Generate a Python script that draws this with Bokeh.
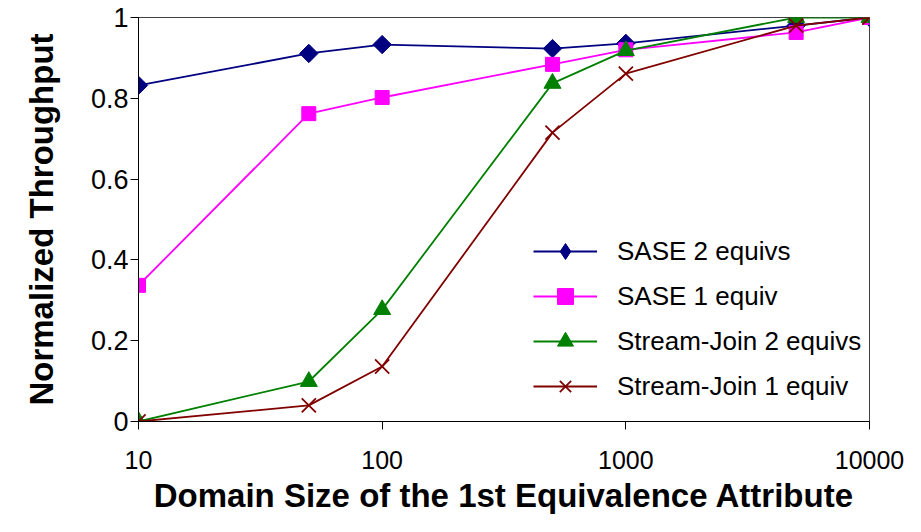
import math
from bokeh.plotting import figure
from bokeh.models import FixedTicker, Legend, LegendItem, Range1d
from bokeh.embed import file_html
from bokeh.resources import INLINE

x_vals = [10, 50, 100, 500, 1000, 5000, 10000]
sase2 = [0.832, 0.911, 0.933, 0.923, 0.936, 0.980, 1.0]
sase1 = [0.337, 0.762, 0.802, 0.884, 0.920, 0.963, 1.0]
sj2 = [0.0, 0.099, 0.277, 0.837, 0.918, 1.0, 1.0]
sj1 = [0.0, 0.040, 0.136, 0.715, 0.861, 0.980, 1.0]
x_ticks = [10, 100, 1000, 10000]
y_ticks = [0, 0.2, 0.4, 0.6, 0.8, 1.0]
y_labels = ["0", "0.2", "0.4", "0.6", "0.8", "1"]

p = figure(width=905, height=516, x_axis_type="log", output_backend="svg",
           toolbar_location=None, x_range=Range1d(10, 10000), y_range=Range1d(0, 1),
           min_border_left=138, min_border_top=17, min_border_right=36, min_border_bottom=95)
p.xgrid.visible = False
p.ygrid.visible = False
p.outline_line_color = "#404040"
p.outline_line_width = 1
p.background_fill_color = "white"
p.border_fill_color = "white"

font = "Liberation Sans"
for ax in (p.xaxis[0], p.yaxis[0]):
    ax.axis_line_color = "black"
    ax.major_tick_line_color = "black"
    ax.minor_tick_line_color = None
    ax.major_tick_in = 0
    ax.major_tick_out = 8
    ax.major_label_text_font = font
    ax.major_label_text_color = "black"
    ax.axis_label_text_font = font
    ax.axis_label_text_font_style = "bold"
    ax.axis_label_text_color = "black"

p.xaxis.ticker = FixedTicker(ticks=x_ticks)
p.xaxis.major_label_overrides = {t: str(t) for t in x_ticks}
p.xaxis.major_label_text_font_size = "25px"
p.xaxis.major_label_standoff = 21
p.xaxis.axis_label = "Domain Size of the 1st Equivalence Attribute"
p.xaxis.axis_label_text_font_size = "33px"
p.xaxis.axis_label_standoff = 5

p.yaxis.ticker = FixedTicker(ticks=y_ticks)
p.yaxis.major_label_overrides = {t: l for t, l in zip(y_ticks, y_labels)}
p.yaxis.major_label_text_font_size = "27px"
p.yaxis.major_label_standoff = 2
p.yaxis.axis_label = "Normalized Throughput"
p.yaxis.axis_label_text_font_size = "33px"
p.yaxis.axis_label_standoff = 28

series = [
    ("SASE 2 equivs", sase2, "#000080", "square", 13, math.pi / 4),
    ("SASE 1 equiv", sase1, "#FF00FF", "square", 14, 0),
    ("Stream-Join 2 equivs", sj2, "#008000", "triangle", 17, 0),
    ("Stream-Join 1 equiv", sj1, "#800000", "x", 20, 0),
]
items = []
for name, ys, color, marker, size, ang in series:
    l = p.line(x_vals, ys, line_color=color, line_width=1.8)
    m = p.scatter(x_vals, ys, marker=marker, size=size, angle=ang, fill_color=color,
                  line_color=color, line_width=1.8 if marker == "x" else 1)
    if ang:
        # legend swatch: a diamond glyph that draws nothing in the plot
        m = p.scatter([float("nan")], [float("nan")], marker="diamond", size=22,
                      fill_color=color, line_color=color)
    items.append(LegendItem(label=name, renderers=[l, m]))

legend = Legend(items=items, location=(395, 15), border_line_color=None,
                background_fill_alpha=0, padding=0, margin=0, spacing=5,
                glyph_width=64, glyph_height=40, label_height=40,
                label_standoff=20, label_text_font=font,
                label_text_font_size="26px", label_text_color="black")
p.add_layout(legend, "center")

open("out.html", "w").write(file_html(p, INLINE))
